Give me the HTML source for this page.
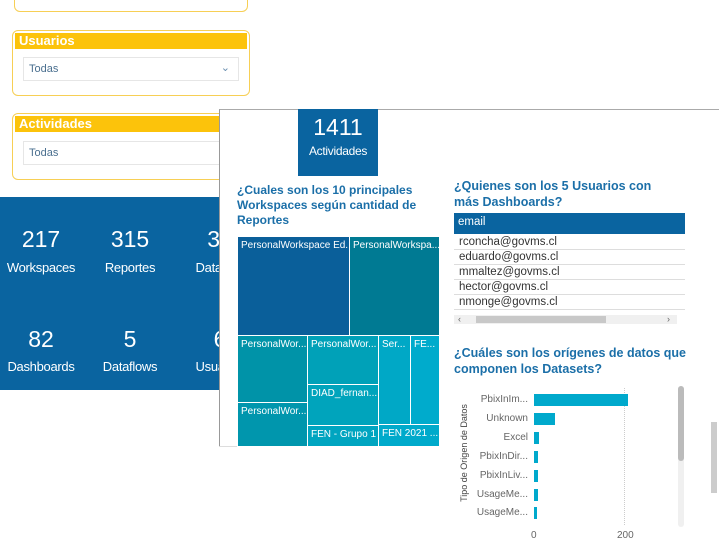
<!DOCTYPE html>
<html><head><meta charset="utf-8"><style>
body{margin:0;width:719px;height:551px;position:relative;background:#fff;font-family:"Liberation Sans",sans-serif;overflow:hidden}
div{position:absolute;box-sizing:border-box}
.y{border:1px solid #f7cf55;border-radius:6px}
.yh{background:#fcc30b;color:#fff;font-weight:bold;font-size:13px;padding-left:4px;line-height:16px}
.dd{border:1px solid #e6e6e6;color:#4a6f8f;font-size:11px;padding-left:5px;line-height:22px}
.n{color:#fff;font-size:23px;text-align:center;width:80px}
.l{color:#fff;font-size:13px;text-align:center;width:80px;letter-spacing:-0.3px}
.t{color:#fff;font-size:10px;padding:3px;white-space:nowrap;overflow:hidden;border:1px solid #fff}
.h{color:#1b6fa8;font-size:12.5px;font-weight:bold;line-height:16px}
.r{font-size:11.5px;color:#333;border-bottom:1px solid #ddd;height:15px;line-height:15px;padding-left:5px;width:231px;left:454px}
.bl{font-size:10px;color:#666;text-align:right;width:80px;left:448px}
.b{background:#00a9cc;left:534px;height:12px}
</style></head><body>
<div class="y" style="left:14px;top:-10px;width:234px;height:22px"></div>
<div class="y" style="left:12px;top:30px;width:238px;height:66px"></div>
<div class="yh" style="left:15px;top:33px;width:232px">Usuarios</div>
<div class="dd" style="left:23px;top:57px;width:216px;height:24px">Todas<span style="position:absolute;right:8px;top:-1px;color:#6a8fb0">&#8964;</span></div>
<div class="y" style="left:12px;top:113px;width:238px;height:67px"></div>
<div class="yh" style="left:15px;top:116px;width:232px">Actividades</div>
<div class="dd" style="left:23px;top:141px;width:216px;height:24px">Todas</div>
<div style="left:0;top:197px;width:222px;height:193px;background:#0a64a0"></div>
<div class="n" style="left:1px;top:226px">217</div><div class="l" style="left:1px;top:260px">Workspaces</div>
<div class="n" style="left:90px;top:226px">315</div><div class="l" style="left:90px;top:260px">Reportes</div>
<div class="n" style="left:180px;top:226px">30</div><div class="l" style="left:180px;top:260px">Datasets</div>
<div class="n" style="left:1px;top:326px">82</div><div class="l" style="left:1px;top:359px">Dashboards</div>
<div class="n" style="left:90px;top:326px">5</div><div class="l" style="left:90px;top:359px">Dataflows</div>
<div class="n" style="left:180px;top:326px">6</div><div class="l" style="left:180px;top:359px">Usuarios</div>
<div style="left:219px;top:109px;width:500px;height:338px;background:#fff;border-left:1px solid #999;border-top:1px solid #aaa"></div>
<div style="left:440px;top:440px;width:279px;height:111px;background:#fff"></div>
<div style="left:219px;top:446px;width:221px;height:1px;background:#ddd"></div>
<div style="left:298px;top:109px;width:80px;height:67px;background:#0a64a0"></div>
<div class="n" style="left:298px;top:114px">1411</div><div class="l" style="left:298px;top:144px;font-size:12px">Actividades</div>
<div class="h" style="left:237px;top:183px;width:200px;font-size:12px;line-height:15px">¿Cuales son los 10 principales Workspaces según cantidad de Reportes</div>
<div class="t" style="left:237px;top:236px;width:113px;height:100px;background:#0a5f9a">PersonalWorkspace Ed...</div>
<div class="t" style="left:349px;top:236px;width:91px;height:100px;background:#007a93">PersonalWorkspa...</div>
<div class="t" style="left:237px;top:335px;width:71px;height:68px;background:#0093a8">PersonalWor...</div>
<div class="t" style="left:237px;top:402px;width:71px;height:45px;background:#0096ad">PersonalWor...</div>
<div class="t" style="left:307px;top:335px;width:72px;height:50px;background:#00a1b8">PersonalWor...</div>
<div class="t" style="left:307px;top:384px;width:72px;height:42px;background:#00a4bc">DIAD_fernan...</div>
<div class="t" style="left:307px;top:425px;width:72px;height:22px;background:#00a5c0">FEN - Grupo 1</div>
<div class="t" style="left:378px;top:335px;width:33px;height:90px;background:#00a8c6">Ser...</div>
<div class="t" style="left:410px;top:335px;width:30px;height:90px;background:#00abcc">FE...</div>
<div class="t" style="left:378px;top:424px;width:62px;height:23px;background:#00aacb">FEN 2021 ...</div>
<div class="h" style="left:454px;top:178px;width:215px">¿Quienes son los 5 Usuarios con más Dashboards?</div>
<div style="left:454px;top:213px;width:231px;height:21px;background:#0a64a0;color:#fff;font-size:11.5px;padding:3px 4px">email</div>
<div class="r" style="top:235px">rconcha@govms.cl</div>
<div class="r" style="top:250px">eduardo@govms.cl</div>
<div class="r" style="top:265px">mmaltez@govms.cl</div>
<div class="r" style="top:280px">hector@govms.cl</div>
<div class="r" style="top:295px">nmonge@govms.cl</div>
<div style="left:454px;top:315px;width:223px;height:9px;background:#f0f0f0"></div>
<div style="left:476px;top:316px;width:130px;height:7px;background:#c8c8c8"></div>
<div style="left:458px;top:315px;font-size:9px;color:#666;line-height:9px">&lsaquo;</div>
<div style="left:667px;top:315px;font-size:9px;color:#666;line-height:9px">&rsaquo;</div>
<div class="h" style="left:454px;top:345px;width:250px">¿Cuáles son los orígenes de datos que componen los Datasets?</div>
<div style="left:409px;top:448px;width:110px;font-size:9px;color:#444;transform:rotate(-90deg);white-space:nowrap;text-align:center">Tipo de Origen de Datos</div>
<div style="left:624px;top:388px;width:0;height:137px;border-left:1px dotted #ccc"></div>
<div class="bl" style="top:394px">PbixInIm...</div><div class="b" style="top:394px;width:94px"></div>
<div class="bl" style="top:413px">Unknown</div><div class="b" style="top:413px;width:21px"></div>
<div class="bl" style="top:432px">Excel</div><div class="b" style="top:432px;width:5px"></div>
<div class="bl" style="top:451px">PbixInDir...</div><div class="b" style="top:451px;width:4px"></div>
<div class="bl" style="top:470px">PbixInLiv...</div><div class="b" style="top:470px;width:4px"></div>
<div class="bl" style="top:489px">UsageMe...</div><div class="b" style="top:489px;width:4px"></div>
<div class="bl" style="top:507px">UsageMe...</div><div class="b" style="top:507px;width:3px"></div>
<div style="left:531px;top:530px;font-size:10px;color:#666">0</div>
<div style="left:617px;top:530px;font-size:10px;color:#666">200</div>
<div style="left:678px;top:386px;width:6px;height:141px;background:#f0f0f0;border-radius:3px"></div>
<div style="left:678px;top:386px;width:6px;height:75px;background:#bbb;border-radius:3px"></div>
<div style="left:711px;top:422px;width:6px;height:71px;background:#ccc"></div>
</body></html>
